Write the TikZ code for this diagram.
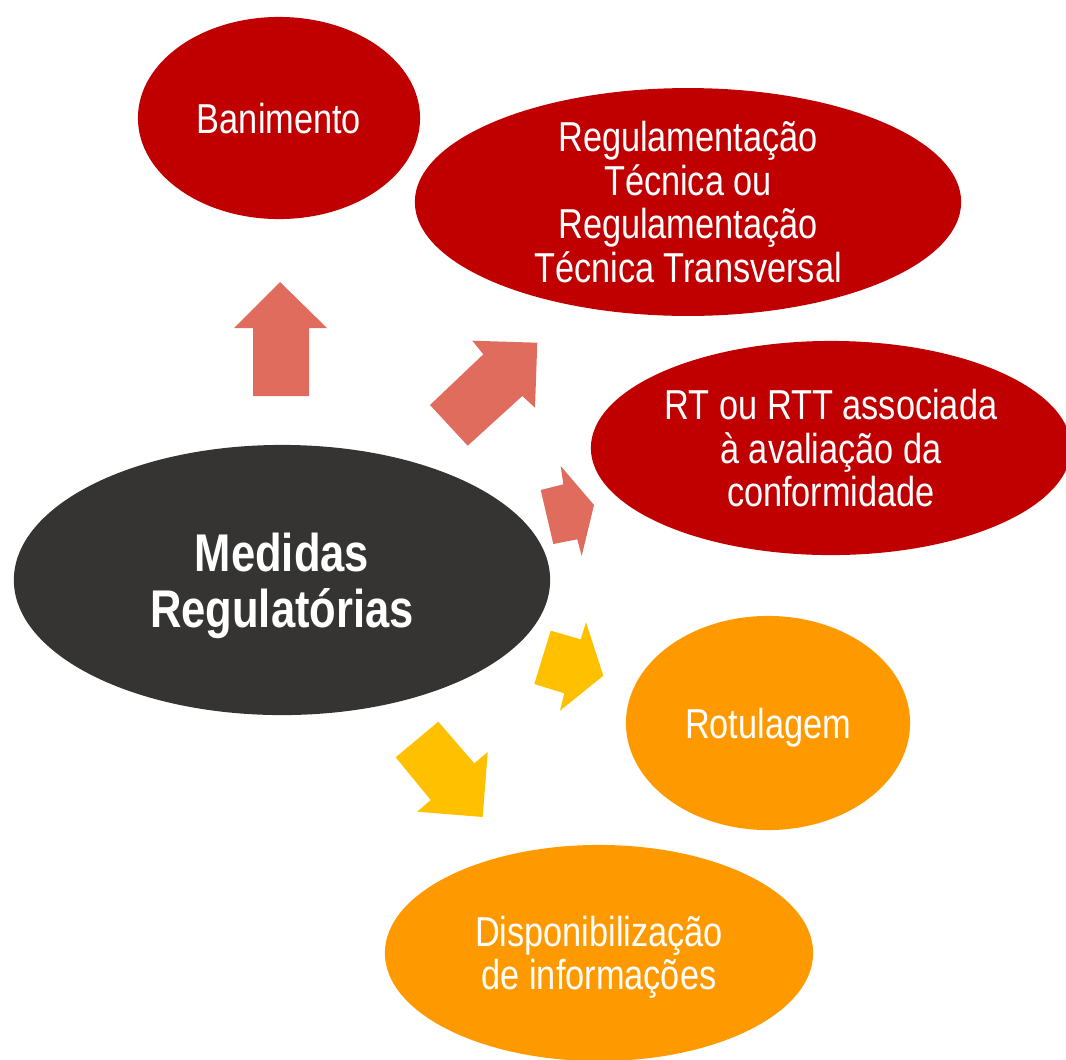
\documentclass[tikz,border=0pt]{standalone}
\usepackage{fontspec}
\setmainfont{Liberation Sans}[FakeStretch=0.82]
\usetikzlibrary{shapes.geometric}
\definecolor{rouge}{HTML}{C00000}
\definecolor{saumon}{HTML}{E06C5E}
\definecolor{anthracite}{HTML}{353432}
\definecolor{laranja}{HTML}{FF9900}
\definecolor{amarelo}{HTML}{FFC000}
\tikzset{
  bulle/.style={ellipse, inner sep=0pt, align=center, text=white, text depth=0pt,
    font=\fontsize{11.9}{12.4}\selectfont},
}
\begin{document}
\begin{tikzpicture}[x=0.01cm, y=-0.01cm]
\useasboundingbox (0,0) rectangle (1066,1060);

% Medidas centrais
\node[bulle, fill=anthracite, minimum width=5.36cm, minimum height=2.70cm,
  font=\fontsize{15.1}{15.9}\selectfont\bfseries] (medidas) at (282,580) {Medidas\\Regulatórias};

% Medidas restritivas
\node[bulle, fill=rouge, minimum width=2.82cm, minimum height=2.02cm] (banimento) at (279,118) {Banimento};
\node[bulle, fill=rouge, minimum width=5.46cm, minimum height=2.14cm] (regtec) at (688,202)
  {Regulamentação\\Técnica ou\\Regulamentação\\Técnica Transversal};
\node[bulle, fill=rouge, minimum width=4.80cm, minimum height=2.14cm] (rtavaliacao) at (831,448)
  {RT ou RTT associada\\à avaliação da\\conformidade};

% Medidas informativas
\node[bulle, fill=laranja, minimum width=2.84cm, minimum height=2.14cm] (rotulagem) at (768,723) {Rotulagem};
\node[bulle, fill=laranja, minimum width=4.28cm, minimum height=2.16cm] (disponib) at (599,953)
  {Disponibilização\\de informações};

% Setas
\fill[saumon] (253,396) -- (253,328) -- (234,328) -- (280,282) -- (327,328) -- (309,328) -- (309,396) -- cycle;
\fill[saumon] (430,405) -- (483.3,354.3) -- (472.3,340.7) -- (537.3,342.7) -- (535,407.7) -- (522.3,396) -- (467.7,445.7) -- cycle;
\fill[saumon] (540.7,490) -- (563.3,484.3) -- (560.7,466) -- (594,505) -- (581.7,556) -- (577.3,539.3) -- (553.3,544) -- cycle;
\fill[amarelo] (534.3,684) -- (550.7,630.7) -- (580.7,639.3) -- (586,622.3) -- (603.3,675.7) -- (560,710.7) -- (564.3,693.3) -- cycle;
\fill[amarelo] (395.7,757.3) -- (438.3,721.7) -- (474.3,763.3) -- (487.7,752) -- (482.7,817) -- (417.3,811.7) -- (430.7,800) -- cycle;

\end{tikzpicture}
\end{document}
